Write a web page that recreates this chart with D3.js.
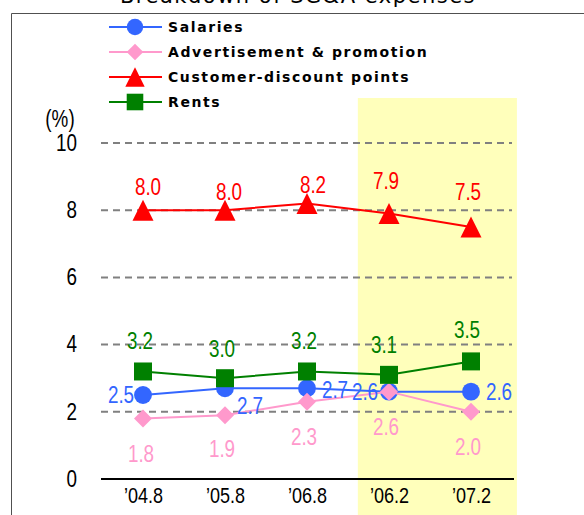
<!DOCTYPE html>
<html>
<head>
<meta charset="utf-8">
<script src="https://cdn.jsdelivr.net/npm/d3@7"></script>
<style>
  body { margin: 0; background: #fff; }
  svg { display: block; }
  .legend text { font-family: "DejaVu Sans", sans-serif; font-weight: bold; font-size: 14px; letter-spacing: 1.6px; }
</style>
</head>
<body>
<div id="graph"></div>
<script>
"use strict";

// data
const categories = ["\u201904.8", "\u201905.8", "\u201906.8", "\u201906.2", "\u201907.2"];
const salaries = [2.5, 2.7, 2.7, 2.6, 2.6];
const advertisement = [1.8, 1.9, 2.3, 2.6, 2.0];
const discountPoints = [8.0, 8.0, 8.2, 7.9, 7.5];
const rents = [3.2, 3.0, 3.2, 3.1, 3.5];
const yTicks = [0, 2, 4, 6, 8, 10];
const highlighted = ["\u201906.2", "\u201907.2"];

// tall narrow digits like the original gothic font
const numFont = "Liberation Sans, Arial, sans-serif";
const squeeze = 0.82;

const series = [
    { name: "Salaries", values: salaries, color: "#3366ff", shape: "circle",
      label: [[-22, 0], [25, 18], [28, 2], [-24, 0], [28, 0]] },
    { name: "Advertisement & promotion", values: advertisement, color: "#ff99cc", shape: "diamond",
      label: [[-2, 35], [-3, 34], [-3, 35], [-3, 35], [-3, 35]] },
    { name: "Customer-discount points", values: discountPoints, color: "#ff0000", shape: "triangle",
      label: [[5, -23], [4, -18], [6, -19], [-3, -33], [-3, -35]] },
    { name: "Rents", values: rents, color: "#008000", shape: "square",
      label: [[-3, -31], [-3, -29], [-3, -31], [-5, -30], [-4, -31]] }
];

const width = 584, height = 515;

const svg = d3.select("#graph")
    .append("svg")
    .attr("width", width)
    .attr("height", height);

const x = d3.scalePoint()
    .domain(categories)
    .range([102, 512])
    .padding(0.5);

const y = d3.scaleLinear()
    .domain([0, 10])
    .range([479, 143]);

// highlighted period
const step = x.step();
svg.append("rect")
    .attr("x", x(highlighted[0]) - step * 0.38)
    .attr("y", 98)
    .attr("width", x(highlighted[1]) - x(highlighted[0]) + step * 0.94)
    .attr("height", height - 98)
    .attr("fill", "#ffffbb");

// frame
svg.append("path")
    .attr("d", "M11.5," + height + "V13.5H" + width)
    .attr("fill", "none")
    .attr("stroke", "#505050")
    .attr("stroke-width", 1);

// title (cut off at the top)
svg.append("text")
    .attr("x", 298)
    .attr("y", 3)
    .attr("text-anchor", "middle")
    .attr("font-family", "DejaVu Sans, sans-serif")
    .attr("font-size", 21)
    .attr("letter-spacing", "1.5px")
    .text("Breakdown of SG&A expenses");

// gridlines
svg.append("g")
    .selectAll("line")
    .data(yTicks.filter(d => d > 0))
    .enter().append("line")
    .attr("x1", 101)
    .attr("x2", 512)
    .attr("y1", d => y(d))
    .attr("y2", d => y(d))
    .attr("stroke", "#808080")
    .attr("stroke-width", 2)
    .attr("stroke-dasharray", "7,5");

// y axis labels
const yAxis = svg.append("g")
    .attr("transform", "translate(100,0)")
    .call(d3.axisLeft(y).tickValues(yTicks).tickSize(0).tickPadding(23));
yAxis.select(".domain").remove();
yAxis.selectAll("text")
    .attr("font-family", numFont)
    .attr("font-size", 23)
    .attr("fill", "#000")
    .attr("x", -23 / squeeze)
    .attr("transform", "scale(" + squeeze + ",1)");

svg.append("text")
    .attr("transform", "translate(60,127) scale(" + squeeze + ",1)")
    .attr("text-anchor", "middle")
    .attr("font-family", numFont)
    .attr("font-size", 23)
    .text("(%)");

// x axis
svg.append("line")
    .attr("x1", 101)
    .attr("x2", 514)
    .attr("y1", y(0))
    .attr("y2", y(0))
    .attr("stroke", "#000")
    .attr("stroke-width", 2);

const xAxis = svg.append("g")
    .attr("transform", "translate(0," + y(0) + ")")
    .call(d3.axisBottom(x).tickSize(0).tickPadding(8));
xAxis.select(".domain").remove();
xAxis.selectAll("text")
    .attr("font-family", numFont)
    .attr("font-size", 22)
    .attr("fill", "#000")
    .attr("transform", "scale(" + squeeze + ",1)");

// marker shapes
const shapes = {
    circle: d3.symbolCircle,
    square: d3.symbolSquare,
    diamond: {
        draw(ctx, size) {
            const r = Math.sqrt(size / 2);
            ctx.moveTo(0, -r); ctx.lineTo(r, 0); ctx.lineTo(0, r); ctx.lineTo(-r, 0); ctx.closePath();
        }
    },
    triangle: {
        draw(ctx, size) {
            const h = Math.sqrt(size * 2) / 2;
            ctx.moveTo(0, -h); ctx.lineTo(h, h); ctx.lineTo(-h, h); ctx.closePath();
        }
    }
};
const shapeSize = { circle: 250, square: 324, diamond: 162, triangle: 220 };

const line = d3.line()
    .x((d, i) => x(categories[i]))
    .y(d => y(d));

series.forEach(s => {
    const g = svg.append("g");
    g.append("path")
        .datum(s.values)
        .attr("d", line)
        .attr("fill", "none")
        .attr("stroke", s.color)
        .attr("stroke-width", 2);
    g.selectAll(".pt")
        .data(s.values)
        .enter().append("path")
        .attr("class", "pt")
        .attr("transform", (d, i) => "translate(" + x(categories[i]) + "," + y(d) + ")")
        .attr("d", d3.symbol().type(shapes[s.shape]).size(shapeSize[s.shape]))
        .attr("fill", s.color);
});

// data labels
series.forEach(s => {
    svg.append("g")
        .selectAll("text")
        .data(s.values)
        .enter().append("text")
        .attr("transform", (d, i) => "translate(" + (x(categories[i]) + s.label[i][0]) + "," +
            (y(d) + s.label[i][1]) + ") scale(" + squeeze + ",1)")
        .attr("dy", "0.35em")
        .attr("text-anchor", "middle")
        .attr("font-family", numFont)
        .attr("font-size", 23)
        .attr("fill", s.color)
        .text(d => d.toFixed(1));
});

// legend
const legend = svg.append("g")
    .attr("class", "legend")
    .attr("transform", "translate(109,27)");

const item = legend.selectAll("g")
    .data(series)
    .enter().append("g")
    .attr("transform", (d, i) => "translate(0," + (i * 25) + ")");

item.append("line")
    .attr("x1", 0)
    .attr("x2", 53)
    .attr("stroke", d => d.color)
    .attr("stroke-width", 2);

item.append("path")
    .attr("transform", "translate(26,0)")
    .attr("d", d => d3.symbol().type(shapes[d.shape]).size(shapeSize[d.shape] * 0.85)())
    .attr("fill", d => d.color);

item.append("text")
    .attr("x", 59)
    .attr("dy", "0.35em")
    .text(d => d.name);
</script>
</body>
</html>
